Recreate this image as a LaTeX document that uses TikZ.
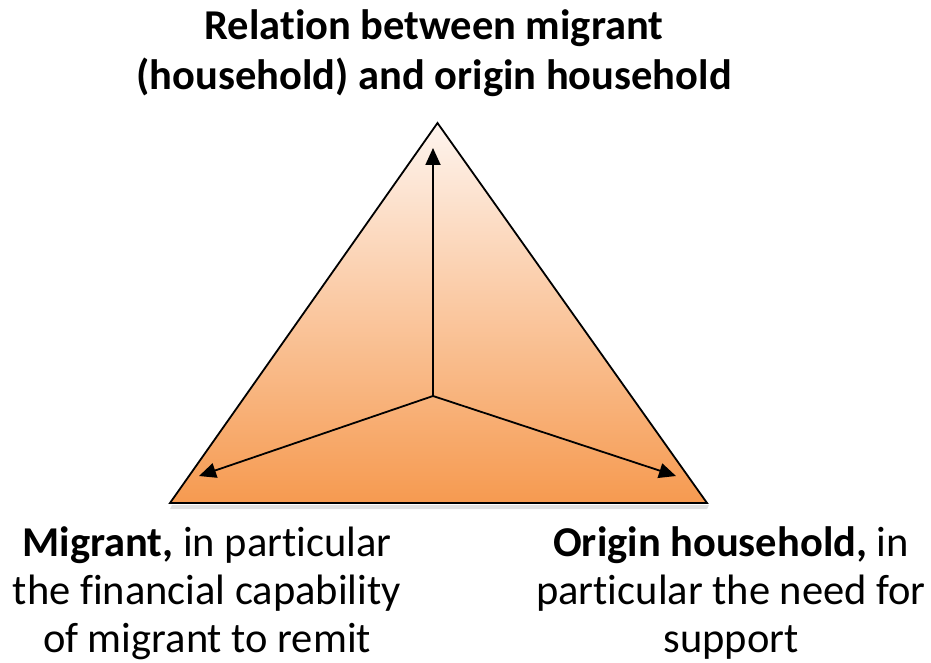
\documentclass[tikz,border=0pt]{standalone}
\usepackage{fontspec}
\setmainfont[Ligatures=NoCommon]{Carlito}
\usetikzlibrary{arrows.meta}
\definecolor{orangeBot}{HTML}{F69A50}
\definecolor{orangeTop}{HTML}{FEF4EE}
\tikzset{
  lbl/.style={align=center, font=\fontsize{42.5}{48}\selectfont, inner sep=0pt},
  arr/.style={line width=1.8pt, -{Triangle[length=17pt,width=15pt]}},
}
\begin{document}
\begin{tikzpicture}[x=1pt,y=-1pt]
\useasboundingbox (0,0) rectangle (931,663);
\coordinate (A) at (437.5,123);
\coordinate (L) at (170,503);
\coordinate (R) at (707,503);
\coordinate (C) at (433,396);
\coordinate (tA) at (433,148);
\coordinate (tL) at (199,476);
\coordinate (tR) at (676,476);
% shadow
\fill[black!12] (172,505) -- (709,505) -- (707,509) -- (170,509) -- cycle;
\shade[top color=orangeTop, bottom color=orangeBot] (A) -- (R) -- (L) -- cycle;
\draw[line width=1.8pt, line join=miter] (A) -- (R) -- (L) -- cycle;
\draw[arr] (C) -- (tA);
\draw[arr] (C) -- (tL);
\draw[arr] (C) -- (tR);
\node[lbl, font=\fontsize{42.5}{50}\selectfont\bfseries] (title) at (434,53) {Relation between migrant\\(household) and origin household};
\node[lbl] (mig) at (207,593) {\textbf{Migrant,} in particular\\the financial capability\\of migrant to remit};
\node[lbl] (org) at (731,593) {\textbf{Origin household,} in\\particular the need for\\support};
\end{tikzpicture}
\end{document}
